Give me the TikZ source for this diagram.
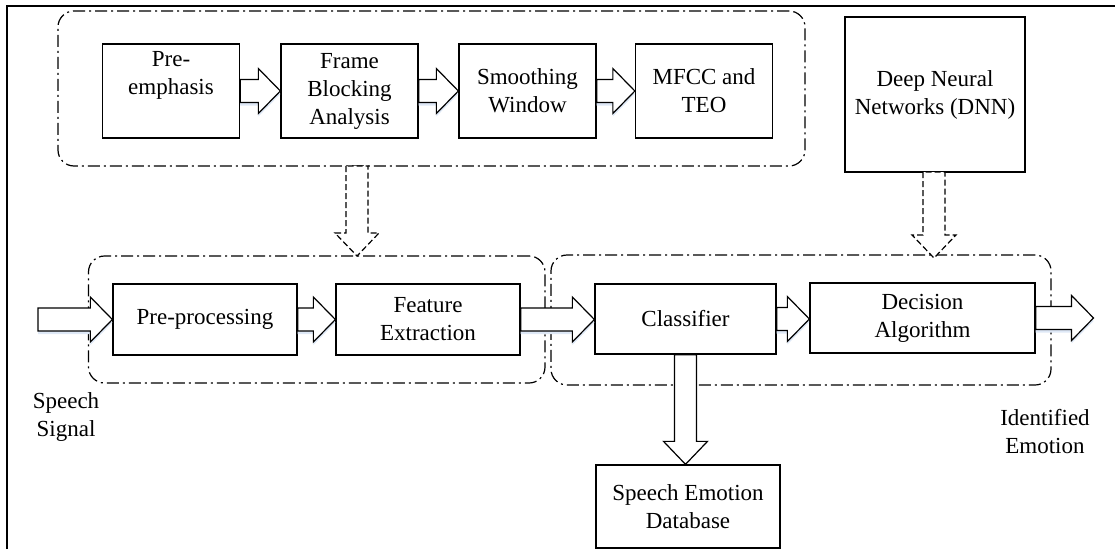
\documentclass[tikz,border=0pt]{standalone}
\usepackage{fontspec}
\setmainfont{Liberation Serif}
\usetikzlibrary{calc}
\definecolor{shadowblue}{RGB}{222,232,246}
\tikzset{
  box/.style={draw, line width=1.3pt, align=center, inner sep=0pt, fill=white,
    font=\fontsize{23}{28}\selectfont},
  grp/.style={draw, line width=1.2pt, rounded corners=16pt, inner sep=0pt,
    dash pattern=on 12pt off 4pt on 2pt off 4pt},
  fatarr/.style={draw, fill=white, line width=1.2pt, line join=miter},
  shfatarr/.style={fatarr, preaction={draw=none, fill=shadowblue, transform canvas={yshift=-3pt}}},
  dfatarr/.style={fatarr, dash pattern=on 6pt off 3pt},
  lbl/.style={align=center, inner sep=0pt, font=\fontsize{23}{28}\selectfont},
}
\newcommand{\hfatarrow}[3][]{\path[shfatarr,#1] let \p1=(#2), \p2=(#3) in
  (\x1,\y1+11.5pt) -- (\x2-22pt,\y1+11.5pt) -- (\x2-22pt,\y1+22.5pt) -- (\x2,\y1)
  -- (\x2-22pt,\y1-22.5pt) -- (\x2-22pt,\y1-11.5pt) -- (\x1,\y1-11.5pt) -- cycle;}
\newcommand{\vfatarrow}[3][]{\path[fatarr,#1] let \p1=(#2), \p2=(#3) in
  (\x1-11pt,\y1) -- (\x1-11pt,\y2+23pt) -- (\x1-22pt,\y2+23pt) -- (\x1,\y2)
  -- (\x1+22pt,\y2+23pt) -- (\x1+11pt,\y2+23pt) -- (\x1+11pt,\y1) -- cycle;}
\begin{document}
\begin{tikzpicture}[x=1pt,y=-1pt]
\useasboundingbox (0,0) rectangle (1115,549);
% frame
\draw[line width=2.5pt] (7,549) -- (7,6) -- (1115,6);

% groups
\node[grp, minimum width=747pt, minimum height=155pt] (tgrp) at (431.5,88.5) {};
\node[grp, minimum width=456.5pt, minimum height=127pt] (lgrp) at (316.75,319.5) {};
\node[grp, minimum width=500pt, minimum height=130pt] (rgrp) at (801,320) {};

% coordinates for the group arrows
\coordinate (ta) at (357,166);
\coordinate (tb) at (357,256);
\coordinate (sigin) at (38,319.5);
\coordinate (emout) at (1093.5,318);

% vertical dashed arrows
\vfatarrow[dfatarr]{ta}{tb}
\node[box, minimum width=180pt, minimum height=155pt] (dnn) at (935,94.5) {Deep Neural\\Networks (DNN)};
\coordinate (dnnb) at (934,172);
\coordinate (dnnt) at (934,258);
\vfatarrow[dfatarr]{dnnb}{dnnt}

% top row
\node[box, minimum width=137pt, minimum height=94pt] (pre) at (171,91) {Pre-\\emphasis\\\strut};
\node[box, minimum width=137pt, minimum height=94pt] (frm) at (349.5,91) {Frame\\Blocking\\Analysis};
\node[box, minimum width=137pt, minimum height=94pt] (smo) at (527.5,91) {Smoothing\\Window};
\node[box, minimum width=137pt, minimum height=94pt] (mfc) at (704,91) {MFCC and\\TEO};
\hfatarrow{pre.east}{frm.west}
\hfatarrow{frm.east}{smo.west}
\hfatarrow{smo.east}{mfc.west}

% bottom row
\node[box, minimum width=184pt, minimum height=71pt] (pp) at (205,319.5) {Pre-processing};
\node[box, minimum width=184pt, minimum height=71pt] (fe) at (428,319.5) {Feature\\Extraction};
\node[box, minimum width=181pt, minimum height=70pt] (cls) at (685.5,319) {Classifier};
\node[box, minimum width=225pt, minimum height=70pt] (dec) at (922.5,318) {Decision\\Algorithm};
\node[box, minimum width=184pt, minimum height=83pt] (db) at (688,506.5) {Speech Emotion\\Database};

\hfatarrow{sigin}{pp.west}
\hfatarrow{pp.east}{fe.west}
\hfatarrow{fe.east}{cls.west}
\hfatarrow{cls.east}{dec.west}
\hfatarrow{dec.east}{emout}
\vfatarrow{cls.south}{db.north}

% labels
\node[lbl] (sig) at (66,417) {Speech\\Signal};
\node[lbl] (emo) at (1045,432) {Identified\\Emotion};
\end{tikzpicture}
\end{document}
